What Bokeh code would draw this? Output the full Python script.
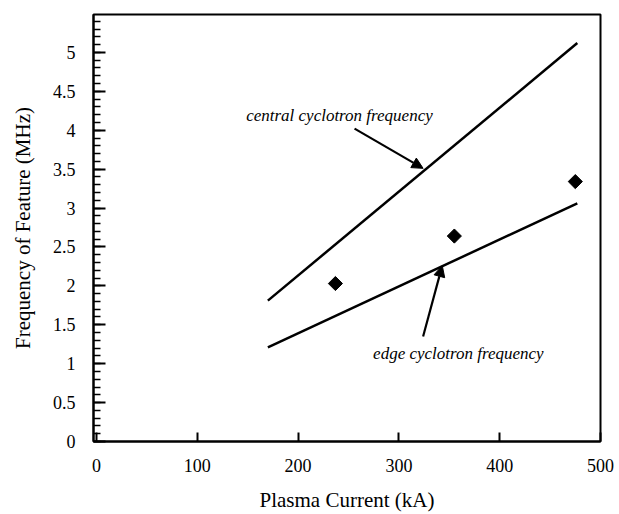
from bokeh.plotting import figure
from bokeh.models import Range1d, SingleIntervalTicker, Arrow, NormalHead, Label
from bokeh.embed import file_html
from bokeh.resources import INLINE

# ---- data ----
line_current = [170, 477]          # kA
central_freq = [1.81, 5.12]        # MHz
edge_freq = [1.21, 3.06]           # MHz
meas_current = [237, 355, 475]     # kA
meas_freq = [2.03, 2.64, 3.34]     # MHz

central_label = "central cyclotron frequency"
edge_label = "edge cyclotron frequency"
central_arrow = dict(tail=(256, 4.02), head=(324, 3.51))
edge_arrow = dict(tail=(324, 1.35), head=(343, 2.26))
central_text_pos = (241, 4.19)
edge_text_pos = (359, 1.13)

x_title = "Plasma Current (kA)"
y_title = "Frequency of Feature (MHz)"

SERIF = "Liberation Serif"

p = figure(width=619, height=514, x_range=Range1d(-3, 500), y_range=Range1d(0, 5.487),
           output_backend="svg", toolbar_location=None,
           min_border_left=93, min_border_right=19, min_border_top=14, min_border_bottom=72)
p.grid.visible = False
p.outline_line_color = "black"
p.outline_line_width = 2
p.background_fill_color = "white"
p.border_fill_color = "white"

# axes
p.xaxis.ticker = SingleIntervalTicker(interval=100, num_minor_ticks=0)
p.yaxis.ticker = SingleIntervalTicker(interval=0.5, num_minor_ticks=5)
for ax in (p.xaxis, p.yaxis):
    ax.axis_line_width = 2
    ax.axis_line_color = "black"
    ax.major_tick_line_color = "black"
    ax.major_tick_line_width = 2
    ax.minor_tick_line_color = "black"
    ax.minor_tick_line_width = 1.5
    ax.major_tick_out = 0
    ax.minor_tick_out = 0
    ax.major_label_text_font = SERIF
    ax.major_label_text_font_size = "18px"
    ax.major_label_text_color = "black"
    ax.axis_label_text_font = SERIF
    ax.axis_label_text_font_size = "21px"
    ax.axis_label_text_font_style = "normal"
    ax.axis_label_text_color = "black"

p.xaxis.major_tick_in = 9
p.xaxis.minor_tick_in = 0
p.yaxis.major_tick_in = 12
p.yaxis.minor_tick_in = 7
p.xaxis.major_label_standoff = 17
p.yaxis.major_label_standoff = 18
p.xaxis.axis_label = x_title
p.yaxis.axis_label = y_title
p.xaxis.axis_label_standoff = 13
p.yaxis.axis_label_standoff = 15

p.yaxis.major_label_overrides = {0: "0", 1: "1", 2: "2", 3: "3", 4: "4", 5: "5"}

# lines
p.line(line_current, central_freq, line_color="black", line_width=2.5)
p.line(line_current, edge_freq, line_color="black", line_width=2.5)

# measured points (diamonds)
p.scatter(meas_current, meas_freq, marker="square", size=10, angle=0.785398,
          fill_color="black", line_color="black")

# arrows
for arr in (central_arrow, edge_arrow):
    p.add_layout(Arrow(end=NormalHead(size=11, fill_color="black", line_color="black", line_width=1),
                       x_start=arr["tail"][0], y_start=arr["tail"][1],
                       x_end=arr["head"][0], y_end=arr["head"][1],
                       line_color="black", line_width=2.2))

# annotation texts
p.add_layout(Label(x=central_text_pos[0], y=central_text_pos[1], text=central_label,
                   text_font=SERIF, text_font_style="italic", text_font_size="17px",
                   text_align="center", text_baseline="middle", text_color="black"))
p.add_layout(Label(x=edge_text_pos[0], y=edge_text_pos[1], text=edge_label,
                   text_font=SERIF, text_font_style="italic", text_font_size="17px",
                   text_align="center", text_baseline="middle", text_color="black"))

open("out.html", "w").write(file_html(p, INLINE))
